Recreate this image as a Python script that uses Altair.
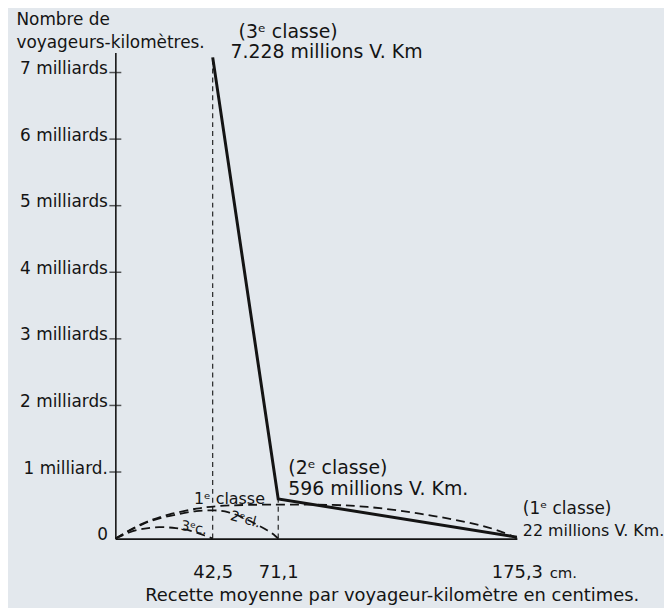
import json
import altair as alt
import pandas as pd

# ---- data ----
classes = ["3ᵉ classe", "2ᵉ classe", "1ᵉ classe"]
recette = [42.5, 71.1, 175.3]          # centimes par voyageur-km
voyageurs = [7.228, 0.596, 0.022]      # milliards de voyageurs-km

y_ticks = [0, 1, 2, 3, 4, 5, 6, 7]
y_labels = ["0", "1 milliard.", "2 milliards", "3 milliards", "4 milliards",
            "5 milliards", "6 milliards", "7 milliards"]
x_ticks = [42.5, 71.1, 175.3]
x_labels = ["42,5", "71,1", "175,3"]

# dashed arcs
arc3_x = [0, 6.1, 11.7, 19.1, 26.5, 33.4, 39.5, 42.5]
arc3_y = [0, 0.10, 0.15, 0.18, 0.16, 0.12, 0.04, 0]
arc2_x = [0, 6.1, 11.7, 19.1, 27.8, 35.1, 43.8, 49.5, 55.1, 61.2, 66.8, 70.3, 71.1]
arc2_y = [0, 0.12, 0.22, 0.31, 0.37, 0.42, 0.43, 0.40, 0.33, 0.22, 0.12, 0.03, 0]
arc1_x = [0, 11.7, 23.4, 36.4, 43.8, 58.1, 75.5, 95.9, 110.2, 124.5, 139.3, 153.6, 165.3, 174.0, 175.3]
arc1_y = [0, 0.24, 0.37, 0.46, 0.49, 0.51, 0.51, 0.51, 0.48, 0.42, 0.34, 0.25, 0.15, 0.03, 0]

# annotations: text, x, y (data units), font size, angle
annotations = [
    ("(3ᵉ classe)", 53.8, 7.61, 19, 0),
    ("7.228 millions V. Km", 50.3, 7.31, 19, 0),
    ("(2ᵉ classe)", 75.5, 1.06, 19, 0),
    ("596 millions V. Km.", 75.5, 0.75, 19, 0),
    ("(1ᵉ classe)", 177.9, 0.45, 17, 0),
    ("22 millions V. Km.", 177.9, 0.12, 16, 0),
    ("1ᵉ classe", 34.3, 0.60, 16, 0),
    ("2ᵉcl.", 50.3, 0.34, 14, 15),
    ("3ᵉc.", 28.6, 0.19, 14, 10),
    ("cm.", 189.6, -0.52, 15, 0),
]

INK = "#141414"
FONT = "DejaVu Sans"

pts = pd.DataFrame({"classe": classes, "x": recette, "y": voyageurs})
pts["base"] = 0.0
xs = alt.Scale(domain=[0, 175.3], nice=False, zero=False)
ys = alt.Scale(domain=[0, 7.3], nice=False, zero=False)

x_expr = f"{json.dumps(x_labels)}[indexof({json.dumps(x_ticks)}, datum.value)]"
y_expr = f"{json.dumps(y_labels)}[indexof({json.dumps(y_ticks)}, datum.value)]"

main = alt.Chart(pts).mark_line(color=INK, strokeWidth=3, strokeJoin="miter").encode(
    x=alt.X("x:Q", scale=xs, axis=alt.Axis(
        values=x_ticks, labelExpr=x_expr, ticks=False, grid=False, labelFlush=False,
        domainColor=INK, domainWidth=1.6, labelColor=INK, labelFont=FONT,
        labelFontSize=18, labelPadding=25,
        title="Recette moyenne par voyageur-kilomètre en centimes.",
        titleFont=FONT, titleFontSize=18, titleFontWeight="normal", titleColor=INK,
        titleX=278, titleY=57, titleBaseline="middle", titleAlign="center")),
    y=alt.Y("y:Q", scale=ys, axis=alt.Axis(
        values=y_ticks, labelExpr=y_expr, ticks=False, grid=False, labelFlush=False,
        domainColor=INK, domainWidth=1.6, labelColor=INK, labelFont=FONT,
        labelFontSize=17, labelPadding=8, labelBaseline="alphabetic", labelOffset=1,
        title=["Nombre de", "voyageurs-kilomètres."],
        titleFont=FONT, titleFontSize=17, titleFontWeight="normal", titleColor=INK,
        titleAngle=0, titleAlign="left", titleBaseline="alphabetic",
        titleX=-100, titleY=-28, titleLineHeight=23)),
    order="x:Q",
)

drops = alt.Chart(pts.iloc[:2]).mark_rule(color=INK, strokeWidth=1.1, strokeDash=[5, 4]).encode(
    x="x:Q", y="base:Q", y2="y:Q")

tick_df = pd.DataFrame({"v": y_ticks[1:]})
tick_df["base"] = 0.0
ticks = alt.Chart(tick_df).mark_tick(
    orient="horizontal", color=INK, size=12, thickness=1.5).encode(
    x="base:Q", y="v:Q")

arcs_df = pd.concat([
    pd.DataFrame({"arc": "3", "x": arc3_x, "y": arc3_y}),
    pd.DataFrame({"arc": "2", "x": arc2_x, "y": arc2_y}),
    pd.DataFrame({"arc": "1", "x": arc1_x, "y": arc1_y}),
])
arcs = alt.Chart(arcs_df).mark_line(color=INK, strokeWidth=1.8, strokeDash=[9, 5],
                                    interpolate="basis").encode(
    x="x:Q", y="y:Q", detail="arc:N")

ann_df = pd.DataFrame(annotations, columns=["t", "x", "y", "fs", "ang"])
texts = alt.Chart(ann_df).mark_text(align="left", baseline="middle", color=INK,
                                    font=FONT).encode(
    x="x:Q", y="y:Q", text="t:N",
    size=alt.Size("fs:Q", scale=None),
    angle=alt.Angle("ang:Q", scale=None))

chart = alt.layer(drops, arcs, main, ticks, texts).properties(
    width=404, height=489,
    padding={"left": 108, "top": 43, "right": 148, "bottom": 68},
    autosize=alt.AutoSizeParams(type="none"),
    background="#e3e8ed",
).configure_view(stroke=None)

chart.save("out.html", embed_options={"renderer": "svg", "actions": False})
